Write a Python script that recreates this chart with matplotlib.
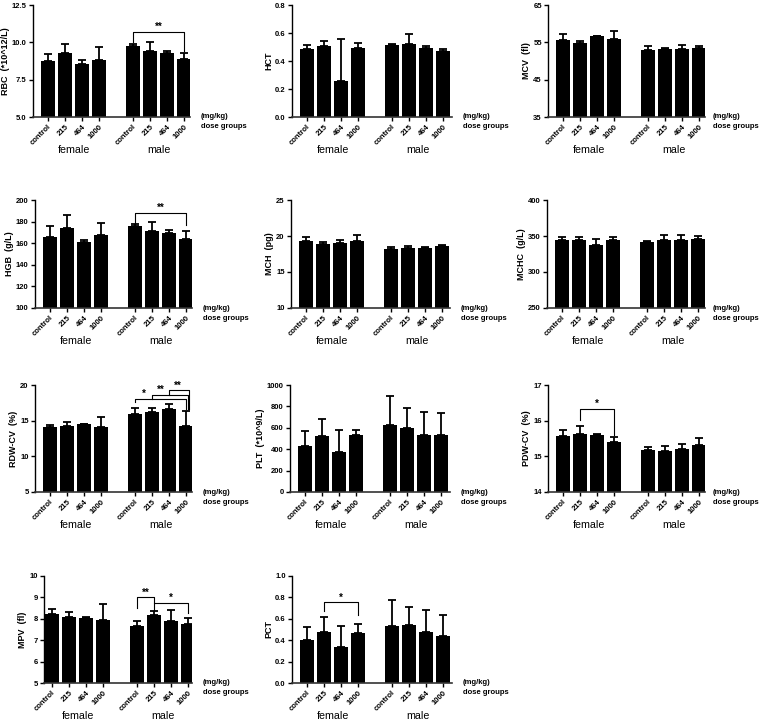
import matplotlib
matplotlib.use("Agg")
import matplotlib.pyplot as plt
import numpy as np

plt.rcParams['font.family'] = ['Liberation Sans', 'DejaVu Sans']

# ---------------- data ----------------
dose_labels = ['control', '215', '464', '1000', 'control', '215', '464', '1000']
group_names = ['female', 'male']
positions = [0, 1, 2, 3, 5, 6, 7, 8]

RBC_mean = [8.72, 9.28, 8.53, 8.79, 9.73, 9.42, 9.29, 8.88]
RBC_err = [0.50, 0.60, 0.30, 0.88, 0.16, 0.58, 0.15, 0.40]
HCT_mean = [0.485, 0.508, 0.26, 0.49, 0.515, 0.518, 0.494, 0.475]
HCT_err = [0.027, 0.035, 0.296, 0.04, 0.01, 0.076, 0.014, 0.012]
MCV_mean = [55.65, 54.7, 56.6, 55.9, 52.9, 53.1, 53.2, 53.5]
MCV_err = [1.6, 0.6, 0.2, 2.1, 1.2, 0.4, 1.0, 0.6]
HGB_mean = [166, 174, 161.5, 168, 175.5, 171, 169.5, 164]
HGB_err = [9.5, 12.5, 1.5, 11, 2, 9, 3, 7.5]
MCH_mean = [19.26, 18.9, 19.08, 19.3, 18.2, 18.34, 18.35, 18.55]
MCH_err = [0.55, 0.2, 0.37, 0.84, 0.3, 0.33, 0.1, 0.15]
MCHC_mean = [344, 344, 337.4, 344, 341.6, 344, 344, 346.3]
MCHC_err = [4.7, 4.7, 8, 4.7, 1.4, 7, 7, 3.3]
RDW_mean = [14.06, 14.25, 14.5, 14.15, 15.94, 16.17, 16.6, 14.3]
RDW_err = [0.33, 0.6, 0.05, 1.3, 0.9, 0.55, 0.8, 2.1]
PLT_mean = [434, 525, 375, 531, 622, 597, 531, 531]
PLT_err = [140, 160, 200, 45, 278, 190, 213, 203]
PDW_mean = [15.57, 15.63, 15.61, 15.39, 15.19, 15.15, 15.21, 15.32]
PDW_err = [0.17, 0.21, 0.005, 0.14, 0.08, 0.14, 0.13, 0.2]
MPV_mean = [8.23, 8.1, 8.06, 7.93, 7.66, 8.17, 7.92, 7.75]
MPV_err = [0.23, 0.22, 0.04, 0.75, 0.26, 0.18, 0.5, 0.27]
PCT_mean = [0.40, 0.475, 0.34, 0.466, 0.534, 0.54, 0.475, 0.44]
PCT_err = [0.12, 0.14, 0.19, 0.085, 0.24, 0.17, 0.21, 0.2]

# significance brackets: (bar i, bar j, height, left end, right end, text, label at bar-index)
RBC_sig = [(4, 7, 10.7, 10.0, 9.44, '**', 5.5)]
HGB_sig = [(4, 7, 188, 178.3, 177.3, '**', 5.5)]
RDW_sig = [(4, 7, 18.0, 17.55, 16.6, '*', 4.5),
           (5, 7, 18.6, 18.0, 16.6, '**', 5.5),
           (6, 7, 19.25, 18.6, 16.6, '**', 6.5)]
PDW_sig = [(1, 3, 16.33, 16.02, 15.6, '*', 2.0)]
MPV_sig = [(4, 5, 9.0, 8.49, 8.76, '**', 4.5),
           (5, 7, 8.76, 8.42, 8.26, '*', 6.0)]
PCT_sig = [(1, 3, 0.753, 0.67, 0.64, '*', 2.0)]

# panel definitions: label, mean, err, yticks, tick format, brackets
panels = [
    ('RBC  (*10^12/L)', RBC_mean, RBC_err, [5.0, 7.5, 10.0, 12.5], '{:.1f}', RBC_sig),
    ('HCT', HCT_mean, HCT_err, [0.0, 0.2, 0.4, 0.6, 0.8], '{:.1f}', []),
    ('MCV  (fl)', MCV_mean, MCV_err, [35, 45, 55, 65], '{:d}', []),
    ('HGB  (g/L)', HGB_mean, HGB_err, [100, 120, 140, 160, 180, 200], '{:d}', HGB_sig),
    ('MCH  (pg)', MCH_mean, MCH_err, [10, 15, 20, 25], '{:d}', []),
    ('MCHC  (g/L)', MCHC_mean, MCHC_err, [250, 300, 350, 400], '{:d}', []),
    ('RDW-CV  (%)', RDW_mean, RDW_err, [5, 10, 15, 20], '{:d}', RDW_sig),
    ('PLT  (*10^9/L)', PLT_mean, PLT_err, [0, 200, 400, 600, 800, 1000], '{:d}', []),
    ('PDW-CV  (%)', PDW_mean, PDW_err, [14, 15, 16, 17], '{:d}', PDW_sig),
    ('MPV  (fl)', MPV_mean, MPV_err, [5, 6, 7, 8, 9, 10], '{:d}', MPV_sig),
    ('PCT', PCT_mean, PCT_err, [0.0, 0.2, 0.4, 0.6, 0.8, 1.0], '{:.1f}', PCT_sig),
]

# ---------------- layout (pixels) ----------------
W, H = 763, 721
DPI = 100
rows_px = [(5, 117), (200, 308), (385, 492), (576, 683)]
cols_px = [(33, 190), (292, 452), (548, 705),
           (35, 192), (291, 450), (547, 705),
           (35, 192), (290, 450), (548, 705),
           (44, 192), (292, 452)]

fig = plt.figure(figsize=(W / DPI, H / DPI), dpi=DPI)
PX = 72.0 / DPI  # points per pixel

for k, (ylabel, mean, err, yticks, fmt, sig) in enumerate(panels):
    r = k // 3
    c = k % 3
    x0, x1 = cols_px[k]
    top, bot = rows_px[r]
    ax = fig.add_axes([x0 / W, 1 - bot / H, (x1 - x0) / W, (bot - top) / H])
    wpx = x1 - x0
    step = 17.0
    left = -15.0 / step if k != 9 else -8.0 / step
    ax.set_xlim(left, left + wpx / step)
    ax.set_ylim(yticks[0], yticks[-1])

    ax.bar(positions, mean, width=0.84, color='black', zorder=2)
    ax.errorbar(positions, mean, yerr=[np.zeros(len(err)), err], fmt='none',
                ecolor='black', elinewidth=1.3, capsize=2.8, capthick=1.3, zorder=3)

    for s in ['top', 'right']:
        ax.spines[s].set_visible(False)
    ax.spines['left'].set_linewidth(1.0)
    ax.spines['bottom'].set_linewidth(1.2)
    ax.spines['bottom'].set_color('#333333')

    ax.set_yticks(yticks)
    ax.set_yticklabels([fmt.format(t) for t in yticks], fontsize=5.5, fontweight='bold')
    ax.set_xticks(positions)
    ax.set_xticklabels(dose_labels, rotation=45, ha='right', va='top',
                       rotation_mode='anchor', fontsize=5.6, fontweight='bold')
    ax.tick_params(axis='both', length=3, width=1.0, pad=1.5)
    ax.set_ylabel(ylabel, fontsize=6.5, fontweight='bold', labelpad=1.5)

    gap = 11 if c < 2 else 8
    ax.annotate('(mg/kg)', xy=(1, 0), xycoords='axes fraction',
                xytext=(gap * PX, 0), textcoords='offset points',
                ha='left', va='center', fontsize=5.5, fontweight='bold')
    ax.annotate('dose groups', xy=(1, 0), xycoords='axes fraction',
                xytext=(gap * PX, -10 * PX), textcoords='offset points',
                ha='left', va='center', fontsize=5.5, fontweight='bold')
    for g, gname in enumerate(group_names):
        gx = np.mean(positions[g * 4:(g + 1) * 4])
        ax.annotate(gname, xy=(gx, 0), xycoords=('data', 'axes fraction'),
                    xytext=(0, -33 * PX), textcoords='offset points',
                    ha='center', va='center', fontsize=7.7)

    seen = {}
    for (i, j, y, yl, yr, txt, lx) in sig:
        n = seen.get(j, 0)
        seen[j] = n + 1
        xa = positions[i]
        xb = positions[j] + 0.09 * n
        ax.plot([xa, xa, xb, xb], [yl, y, y, yr], color='black', lw=0.8, zorder=4,
                clip_on=False)
        lxv = np.interp(lx, range(len(positions)), positions)
        ax.text(lxv, y, txt, ha='center', va='bottom', fontsize=7, fontweight='bold')

fig.savefig('out.png', dpi=DPI)
